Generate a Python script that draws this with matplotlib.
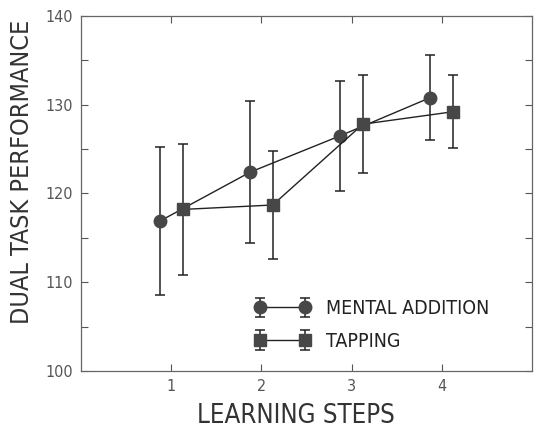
import numpy as np
import matplotlib.pyplot as plt
from matplotlib.legend_handler import HandlerErrorbar

plt.rcParams['font.family'] = ['DejaVu Sans']
plt.rcParams['font.stretch'] = 'condensed'

# Data
steps = [1, 2, 3, 4]
mental_addition = [116.9, 122.4, 126.5, 130.8]
mental_err = [8.3, 8.0, 6.2, 4.8]
tapping = [118.2, 118.7, 127.8, 129.2]
tapping_err = [7.4, 6.1, 5.5, 4.1]
labels = ['MENTAL ADDITION', 'TAPPING']

fig = plt.figure(figsize=(5.34, 4.28), dpi=100)
ax = fig.add_axes([0.152, 0.133, 0.844, 0.830])

x = np.array(steps, dtype=float)
mk = '#474747'
ma = ax.errorbar(x - 0.125, mental_addition, yerr=mental_err, fmt='-o', color='#222222',
                 mfc=mk, mec=mk, ms=9, lw=1.0, elinewidth=1.1, capsize=3.3, capthick=1.1,
                 label=labels[0])
tp = ax.errorbar(x + 0.125, tapping, yerr=tapping_err, fmt='-s', color='#222222',
                 mfc=mk, mec=mk, ms=8, lw=1.0, elinewidth=1.1, capsize=3.3, capthick=1.1,
                 label=labels[1])

ax.set_xlim(0, 5)
ax.set_ylim(100, 140)
ax.set_xticks(steps)
ax.set_yticks([100, 110, 120, 130, 140])
ax.set_yticks(np.arange(100, 141, 5), minor=True)
ax.tick_params(direction='in', top=True, right=True, length=5, width=0.8,
               colors='#555555', labelsize=11.5, labelcolor='#555555')
ax.tick_params(which='minor', direction='in', left=True, right=True, length=5, width=0.8,
               colors='#555555')
ax.tick_params(axis='y', pad=6)
ax.tick_params(axis='x', pad=6)
for s in ax.spines.values():
    s.set_color('#666666')
    s.set_linewidth(0.9)

ax.set_ylabel('DUAL TASK PERFORMANCE', fontsize=18, color='#333333')
ax.yaxis.set_label_coords(-0.104, 0.56)
ax.set_xlabel('LEARNING STEPS', fontsize=18.5, color='#333333')
ax.xaxis.set_label_coords(0.477, -0.09)

ax.legend(loc='center left', bbox_to_anchor=(0.345, 0.13), numpoints=2, frameon=False,
          fontsize=14, handlelength=2.9, handletextpad=0.8, labelspacing=0.7,
          labelcolor='#222222',
          handler_map={ma: HandlerErrorbar(yerr_size=0.5, numpoints=2),
                       tp: HandlerErrorbar(yerr_size=0.5, numpoints=2)})

fig.savefig('out.png', dpi=100)
